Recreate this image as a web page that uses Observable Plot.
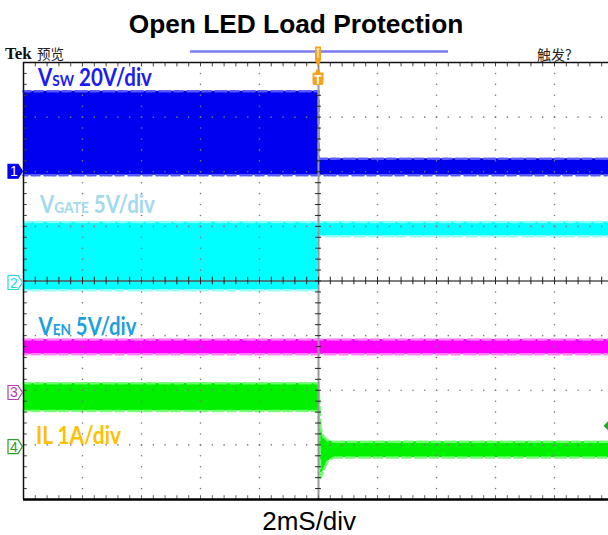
<!DOCTYPE html>
<html><head><meta charset="utf-8">
<script src="https://cdn.jsdelivr.net/npm/d3@7"></script>
<script src="https://cdn.jsdelivr.net/npm/@observablehq/plot@0.6"></script>
<style>
html,body{margin:0;padding:0;background:#fff;overflow:hidden;width:608px;height:535px}
svg{display:block}
</style></head><body><div id="chart"></div>
<script>
// ---- text ----
const chartTitle = "Open LED Load Protection";
const timebaseLabel = "2mS/div";
const headerLeftBrand = "Tek";
const headerLeftState = "预览";
const headerRight = "触发?";
const channelIds = ["1", "2", "3", "4"];
const channelMain = ["V", "V", "V", "IL 1A/div"];
const channelSub = ["SW", "GATE", "EN", ""];
const channelRest = [" 20V/div", " 5V/div", " 5V/div", ""];

// ---- channel settings (units per division, ground level in divisions) ----
const channelPerDiv = [20, 5, 5, 1];
const channelGroundDiv = [2, 0, -2.05, -3.04];
const triggerLevelA = 0.38; // channel 4 trigger level (A)

// ---- trace envelopes, time in ms (2 ms/div, trigger at 0) ----
const vswTimeMs = [-10, 0, 0, 10];
const vswMaxV   = [29.5, 29.5, 4.8, 4.8];
const vswMinV   = [-1.3, -1.3, -1.3, -1.3];

const vgateTimeMs = [-10, 0, 0, 10];
const vgateMaxV   = [5.4, 5.4, 5.4, 5.4];
const vgateMinV   = [-0.85, -0.85, 4.1, 4.1];

const venTimeMs = [-10, 10];
const venMaxV   = [4.9, 4.9];
const venMinV   = [3.55, 3.55];

const ilTimeMs = [-10, 0, 0.07, 0.17, 0.3, 0.51, 10];
const ilMaxA   = [1.17, 1.17, 0.35, 0.19, 0.125, 0.095, 0.095];
const ilMinA   = [0.66, 0.66, -0.57, -0.42, -0.27, -0.19, -0.19];

// ---- build rows in division units ----
function rows(ch, t, hi, lo) {
  return t.map((tt, i) => ({
    t: tt,
    hi: channelGroundDiv[ch] + hi[i] / channelPerDiv[ch],
    lo: channelGroundDiv[ch] + lo[i] / channelPerDiv[ch]
  }));
}
const vsw = rows(0, vswTimeMs, vswMaxV, vswMinV);
const vgate = rows(1, vgateTimeMs, vgateMaxV, vgateMinV);
const ven = rows(2, venTimeMs, venMaxV, venMinV);
const il = rows(3, ilTimeMs, ilMaxA, ilMinA);

const colFill = ["#0000f0", "#00ffff", "#ff00ff", "#00f000"];
const colFringe = ["#5a5aff", "#8cffff", "#ff80ff", "#70ff70"];
const colLabel = ["#1c1cf0", "#a3d9ec", "#1aa0e2", "#ffc000"];
const colMarker = ["#0000f0", "#22d8e8", "#b040b0", "#2aa02a"];

// graticule positions (minor = 1/5 division)
const minorT = d3.range(0, 51).map(i => -10 + i * 0.4);
const minorY = d3.range(0, 41).map(i => -4 + i * 0.2);
const majorT = [-8, -6, -4, -2, 2, 4, 6, 8];
const majorY = [-3, -2, -1, 1, 2, 3];
const gridDots = [];
for (const y of majorY) for (const t of minorT) gridDots.push({t, y});
for (const t of majorT) for (const y of minorY) gridDots.push({t, y});

const fringeDash = "1,2,2,1,1,4,3,1,1,2,1,5,2,2";

function band(data, i) {
  return [
    Plot.areaY(data, {x: "t", y1: "lo", y2: "hi", fill: colFill[i]}),
    Plot.lineY(data, {x: "t", y: "hi", stroke: colFringe[i], strokeWidth: 2.5, strokeDasharray: fringeDash}),
    Plot.lineY(data, {x: "t", y: "lo", stroke: colFringe[i], strokeWidth: 2.5, strokeDasharray: fringeDash, strokeDashoffset: 3})
  ];
}

const plot = Plot.plot({
  width: 608, height: 535,
  marginTop: 62, marginBottom: 36, marginLeft: 23, marginRight: -5,
  x: {domain: [-10, 10], axis: null},
  y: {domain: [-4, 4], axis: null},
  style: {overflow: "hidden", background: "#fff"},
  marks: [
    ...band(vsw, 0),
    ...band(vgate, 1),
    ...band(ven, 2),
    ...band(il, 3),
    Plot.dot(gridDots, {x: "t", y: "y", r: 0.8, fill: "#7a7a7a"}),
    Plot.ruleX([0], {stroke: "#9a9a9a", strokeWidth: 2}),
    Plot.ruleY([0], {stroke: "#555", strokeWidth: 1.5}),
    Plot.ruleY(minorY, {x1: -0.1, x2: 0.1, stroke: "#222", strokeWidth: 1}),
    Plot.ruleX(minorT, {y1: -0.07, y2: 0.07, stroke: "#222", strokeWidth: 1}),
    Plot.ruleX(minorT, {y1: 4, y2: 3.92, stroke: "#444", strokeWidth: 1}),
    Plot.ruleX(minorT, {y1: -4, y2: -3.93, stroke: "#666", strokeWidth: 1}),
    Plot.ruleY(minorY, {x1: -10, x2: -9.87, stroke: "#444", strokeWidth: 1}),
    Plot.ruleY([4], {stroke: "#111", strokeWidth: 1.5}),
    Plot.ruleY([-4], {stroke: "#000", strokeWidth: 2.5}),
    Plot.ruleX([-10], {stroke: "#111", strokeWidth: 1.5})
  ]
});
document.getElementById("chart").appendChild(plot);

// ---- annotations positioned through the plot scales ----
const svg = d3.select(plot);
const X = v => plot.scale("x").apply(v);
const Y = v => plot.scale("y").apply(v);
const sans = "'Liberation Sans', Arial, sans-serif";
const ann = svg.append("g").attr("text-anchor", "start");

ann.append("text").attr("x", 296).attr("y", 33).attr("text-anchor", "middle")
  .attr("font-family", sans).attr("font-weight", "bold").attr("font-size", 26.3).attr("fill", "#000")
  .text(chartTitle);

ann.append("text").attr("x", X(-0.3)).attr("y", 530).attr("text-anchor", "middle")
  .attr("font-family", sans).attr("font-size", 26).attr("fill", "#000")
  .text(timebaseLabel);

// header
ann.append("text").attr("x", 5).attr("y", 59).attr("text-anchor", "start")
  .attr("font-family", "'Liberation Serif', 'DejaVu Serif', serif").attr("font-weight", "bold").attr("font-size", 17).attr("fill", "#111")
  .text(headerLeftBrand);
ann.append("text").attr("x", 37).attr("y", 59).attr("text-anchor", "start")
  .attr("font-family", "'Noto Sans CJK SC', sans-serif").attr("font-size", 13.5).attr("fill", "#222")
  .text(headerLeftState);
ann.append("text").attr("x", 537).attr("y", 59.5).attr("text-anchor", "start")
  .attr("font-family", "'Noto Sans CJK SC', sans-serif").attr("font-size", 14).attr("fill", "#222")
  .text(headerRight);

// record bar
ann.append("line").attr("x1", 190).attr("x2", 448).attr("y1", 51.5).attr("y2", 51.5)
  .attr("stroke", "#7b7bf2").attr("stroke-width", 2.5);

// trigger position markers
const tx = X(0);
const orange = "#f7a21b";
ann.append("path").attr("d", `M${tx-3},46.5H${tx+3}V60L${tx},67L${tx-3},60Z`).attr("fill", orange);
ann.append("path").attr("d", `M${tx-1.6},49H${tx+1.6}M${tx},49V58`).attr("stroke", "#fff").attr("stroke-width", 1).attr("fill", "none");
ann.append("path").attr("d", `M${tx-2},69.5H${tx+2}V72.5H${tx+4.5}Q${tx+5.5},72.5 ${tx+5.5},74V83Q${tx+5.5},85 ${tx+3.5},85H${tx-3.5}Q${tx-5.5},85 ${tx-5.5},83V74Q${tx-5.5},72.5 ${tx-4.5},72.5H${tx-2}Z`).attr("fill", orange);
ann.append("text").attr("x", tx).attr("y", 83.5).attr("text-anchor", "middle")
  .attr("font-family", sans).attr("font-weight", "bold").attr("font-size", 12).attr("fill", "#fff").text("T");

// channel ground markers
channelIds.forEach((id, i) => {
  const yc = Y(channelGroundDiv[i]) + (i === 1 ? 2 : 0);
  const filled = i === 0;
  ann.append("path").attr("d", `M8,${yc-7}H18L22.5,${yc}L18,${yc+7}H8Z`)
    .attr("fill", filled ? colMarker[i] : "#fff").attr("stroke", colMarker[i]).attr("stroke-width", 1.2);
  ann.append("text").attr("x", 14).attr("y", yc + 5).attr("text-anchor", "middle")
    .attr("font-family", sans).attr("font-size", 14)
    .attr("fill", filled ? "#fff" : colMarker[i]).text(id);
});

// trigger level marker (right edge, channel 4)
const ty = Y(channelGroundDiv[3] + triggerLevelA / channelPerDiv[3]);
ann.append("path").attr("d", `M603.5,${ty}L608,${ty-4.5}L608,${ty+4.5}Z`).attr("fill", "#22a822");

// channel labels: parts laid side by side, then squeezed horizontally to the reference width
const labelPos = [[38, 85.5, 114], [40, 213, 115], [38.5, 335, 98], [36, 443.5, 85]];
channelIds.forEach((id, i) => {
  const [lx, ly, lw] = labelPos[i];
  const g = ann.append("g");
  const parts = [[channelMain[i], 24], [channelSub[i], 16], [channelRest[i], 24]].filter(p => p[0]);
  let cx = 0;
  for (const [txt, fs] of parts) {
    const t = g.append("text").attr("x", cx).attr("y", 0).attr("text-anchor", "start")
      .attr("font-family", "Lato, 'Open Sans', sans-serif").attr("font-weight", "bold")
      .attr("font-size", fs).attr("fill", colLabel[i]).attr("xml:space", "preserve")
      .style("white-space", "pre").text(txt);
    cx += t.node().getComputedTextLength();
  }
  const sx = cx > 0 ? lw / cx : 1;
  g.attr("transform", `translate(${lx},${ly}) scale(${sx},1)`);
});
</script></body></html>
